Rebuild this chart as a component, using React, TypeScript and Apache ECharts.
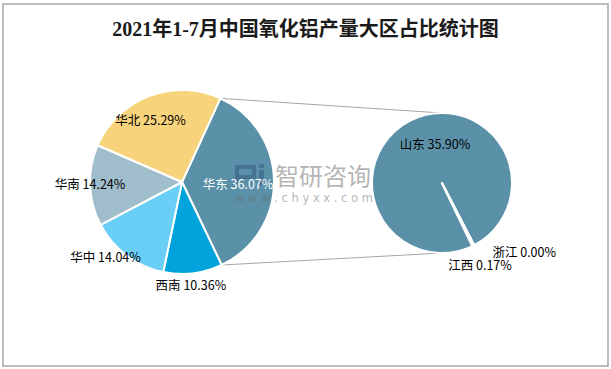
import React, { useEffect, useRef } from 'react';
import * as echarts from 'echarts';

const titleText = '2021年1-7月中国氧化铝产量大区占比统计图';
const mainRegions = ['华东', '西南', '华中', '华南', '华北'];
const mainShares = [36.07, 10.36, 14.04, 14.24, 25.29];
const subRegions = ['山东', '江西', '浙江'];
const subShares = [35.9, 0.17, 0.0];
const watermarkCn = '智研咨询';
const watermarkUrl = 'w w w . c h y x x . c o m';

const mainColors = ['#5B91A8', '#00A3DB', '#6ACFF6', '#9FBDCB', '#F7D37B'];
const subColors = ['#5B91A8', '#5B91A8', '#5B91A8'];
const mainLabelOffsets = [[7, 2], [3, 54], [-47, 35], [-43, 0], [-14, -17]];
const subLabelOffsets = [[10, -6], [21, 48], [67, 37]];
const mainLabelColors = ['#ffffff', '#000000', '#000000', '#000000', '#000000'];

const W = 611;
const H = 369;
const mainCenter = [182, 182];
const mainR = 92;
const mainStart = 65.4;
const subCenter = [442, 183];
const subR = 70;
const subStart = 295.75;

const fmtText = (name: string, v: number) => `${name} ${Number(v).toFixed(2)}%`;
const fmt = (p: any) => fmtText(p.name, p.value);

export default function App() {
  const ref = useRef<HTMLDivElement>(null);
  useEffect(() => {
    if (!ref.current) return;
    const chart = echarts.init(ref.current, undefined, { renderer: 'svg' });
    const rad = (d: number) => (d * Math.PI) / 180;
    const a1 = rad(mainStart);
    const a2 = rad(mainStart - (mainShares[0] / 100) * 360);
    const p1 = [mainCenter[0] + mainR * Math.cos(a1), mainCenter[1] - mainR * Math.sin(a1)];
    const p2 = [mainCenter[0] + mainR * Math.cos(a2), mainCenter[1] - mainR * Math.sin(a2)];
    const q1 = [subCenter[0], subCenter[1] - subR];
    const q2 = [subCenter[0], subCenter[1] + subR];
    const labelFont = { fontSize: 12.5, fontFamily: '"Noto Sans CJK SC", sans-serif' };

    // zero-value slice label (ECharts hides labels of empty sectors): place at its angle
    const subTotal = subShares.reduce((a, b) => a + b, 0);
    let acc = 0;
    for (let i = 0; i < subShares.length - 1; i++) acc += subShares[i];
    const zeroAng = rad(subStart - (acc / subTotal) * 360);
    const zx = subCenter[0] + (subR / 2) * Math.cos(zeroAng) + subLabelOffsets[2][0];
    const zy = subCenter[1] - (subR / 2) * Math.sin(zeroAng) + subLabelOffsets[2][1];

    const wmColor = 'rgba(105,105,105,0.5)';
    const logoColor = 'rgba(40,70,110,0.4)';

    const mainBase = {
      type: 'pie',
      center: mainCenter,
      radius: mainR,
      startAngle: mainStart,
      clockwise: true,
      avoidLabelOverlap: false,
      labelLine: { show: false },
    };

    chart.setOption({
      animation: false,
      backgroundColor: '#ffffff',
      title: {
        text: titleText,
        left: 'center',
        top: 14,
        textStyle: {
          fontSize: 20,
          fontWeight: 'bold',
          color: '#1a1a1a',
          fontFamily: '"Liberation Serif", "Noto Sans CJK SC", serif',
        },
      },
      graphic: [
        {
          type: 'rect',
          z: 0,
          shape: { x: 3, y: 4, width: 605, height: 362 },
          style: { fill: 'none', stroke: '#A6A6A6', lineWidth: 1.5 },
        },
        {
          type: 'line',
          z: 0,
          shape: { x1: p1[0], y1: p1[1], x2: q1[0], y2: q1[1] },
          style: { stroke: '#A6A6A6', lineWidth: 1 },
        },
        {
          type: 'line',
          z: 0,
          shape: { x1: p2[0], y1: p2[1], x2: q2[0], y2: q2[1] },
          style: { stroke: '#A6A6A6', lineWidth: 1 },
        },
        {
          type: 'text',
          z: 50,
          style: {
            x: zx, y: zy, text: fmtText(subRegions[2], subShares[2]),
            align: 'center', verticalAlign: 'middle', fill: '#000000', ...labelFont,
          },
        },
        { type: 'rect', z: 2, shape: { x: 237, y: 167, width: 17, height: 10 }, style: { fill: 'none', stroke: logoColor, lineWidth: 4 } },
        { type: 'rect', z: 2, shape: { x: 235, y: 179, width: 4, height: 6 }, style: { fill: logoColor } },
        { type: 'rect', z: 2, shape: { x: 259, y: 164, width: 5, height: 4 }, style: { fill: logoColor } },
        { type: 'rect', z: 2, shape: { x: 259, y: 170, width: 5, height: 15 }, style: { fill: logoColor } },
        {
          type: 'text',
          z: 2,
          style: {
            x: 323, y: 174, text: watermarkCn, align: 'center', verticalAlign: 'middle',
            fontSize: 24, fontFamily: '"Noto Sans CJK SC", sans-serif', fill: wmColor,
          },
        },
        {
          type: 'text',
          z: 2,
          style: {
            x: 304, y: 198, text: watermarkUrl, align: 'center', verticalAlign: 'middle',
            fontSize: 11.5, fontFamily: '"DejaVu Sans", sans-serif', fill: wmColor,
          },
        },
      ],
      series: [
        {
          ...mainBase,
          z: 1,
          itemStyle: { borderColor: '#ffffff', borderWidth: 2 },
          label: { show: false },
          data: mainRegions.map((name, i) => ({
            name,
            value: mainShares[i],
            itemStyle: { color: mainColors[i] },
          })),
        },
        {
          ...mainBase,
          z: 3,
          silent: true,
          itemStyle: { color: 'rgba(0,0,0,0)', borderWidth: 0 },
          label: { show: true, position: 'inside', formatter: fmt, ...labelFont },
          data: mainRegions.map((name, i) => ({
            name,
            value: mainShares[i],
            label: { offset: mainLabelOffsets[i], color: mainLabelColors[i] },
          })),
        },
        {
          type: 'pie',
          z: 1,
          center: subCenter,
          radius: subR,
          startAngle: subStart,
          clockwise: true,
          avoidLabelOverlap: false,
          labelLine: { show: false },
          itemStyle: { borderColor: '#ffffff', borderWidth: 2 },
          label: { show: true, position: 'inside', formatter: fmt, color: '#000000', ...labelFont },
          data: subRegions.map((name, i) => ({
            name,
            value: subShares[i],
            itemStyle: { color: subColors[i] },
            label: { offset: subLabelOffsets[i], show: subShares[i] > 0 },
          })),
        },
      ],
    });
    return () => chart.dispose();
  }, []);
  return (
    <div
      ref={ref}
      style={{ position: 'fixed', left: 0, top: 0, width: W, height: H }}
    />
  );
}
